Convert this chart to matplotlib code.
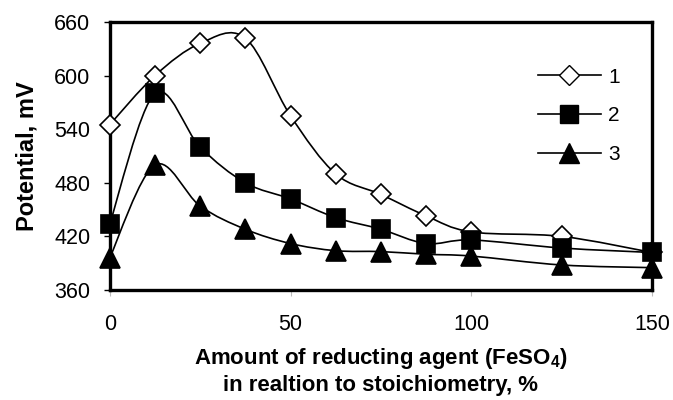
import numpy as np
import matplotlib
matplotlib.use("Agg")
import matplotlib.pyplot as plt
from matplotlib.path import Path
from matplotlib.patches import PathPatch

plt.rcParams['font.family'] = ['Liberation Sans', 'DejaVu Sans']
plt.rcParams['mathtext.fontset'] = 'custom'
plt.rcParams['mathtext.bf'] = 'Liberation Sans:bold'
plt.rcParams['mathtext.rm'] = 'Liberation Sans'

# data
x = [0, 12.5, 25, 37.5, 50, 62.5, 75, 87.5, 100, 125, 150]
s1 = [545, 600, 636, 642, 555, 490, 467, 443, 425, 420, 402]
s2 = [434, 580, 520, 480, 462, 441, 428, 412, 416, 407, 402]
s3 = [396, 500, 454, 428, 412, 404, 403, 400, 398, 388, 385]
labels = ['1', '2', '3']
yticks = [360, 420, 480, 540, 600, 660]
xticks = [0, 50, 100, 150]


##curva suavizada tipo Excel (bezier)##
def suave(ax, xs, ys):
    xs = np.asarray(xs, float)
    ys = np.asarray(ys, float)
    n = len(xs)
    verts = [(xs[0], ys[0])]
    codes = [Path.MOVETO]
    for i in range(n - 1):
        x0, y0 = (xs[i - 1], ys[i - 1]) if i > 0 else (xs[i], ys[i])
        x3, y3 = (xs[i + 2], ys[i + 2]) if i + 2 < n else (xs[i + 1], ys[i + 1])
        c1 = (xs[i] + (xs[i + 1] - x0) / 6, ys[i] + (ys[i + 1] - y0) / 6)
        c2 = (xs[i + 1] - (x3 - xs[i]) / 6, ys[i + 1] - (y3 - ys[i]) / 6)
        verts += [c1, c2, (xs[i + 1], ys[i + 1])]
        codes += [Path.CURVE4] * 3
    ax.add_patch(PathPatch(Path(verts, codes), fill=False, lw=1.2,
                           edgecolor='black', zorder=2))


fig = plt.figure(figsize=(6.73, 4), dpi=100)
ax = fig.add_axes([0.163, 0.275, 0.806, 0.67])

estilos = [dict(marker='D', ms=10, mfc='white'),
           dict(marker='s', ms=13, mfc='black'),
           dict(marker='^', ms=14, mfc='black')]
for ys, lab, st in zip([s1, s2, s3], labels, estilos):
    suave(ax, x, ys)
    ax.plot(x, ys, ls='none', color='black', mec='black', mew=1.2,
            zorder=3, clip_on=False, **st)
    ax.plot([], [], color='black', lw=1.2, label=lab, mec='black', **st)

ax.set_xlim(0, 150)
ax.set_ylim(360, 660)
ax.set_xticks(xticks)
ax.set_yticks(yticks)
ax.tick_params(axis='y', length=4, width=1, labelsize=15.5, pad=10)
ax.tick_params(axis='x', length=4, width=0.8, color='#bbbbbb',
               labelsize=15.5, pad=13)
for sp in ax.spines.values():
    sp.set_linewidth(2.4)

ax.set_ylabel('Potential, mV', fontsize=17, fontweight='bold', labelpad=11)
ax.set_xlabel('Amount of reducting agent (FeSO$_\\mathbf{4}$)\nin realtion to stoichiometry, %',
              fontsize=16, fontweight='bold', labelpad=8, linespacing=1.25)

ax.legend(loc='upper right', bbox_to_anchor=(0.94, 0.83), frameon=False,
          fontsize=15, handlelength=3.0, labelspacing=0.95, handletextpad=0.35,
          borderaxespad=0, borderpad=0)

fig.savefig('out.png', dpi=100)
